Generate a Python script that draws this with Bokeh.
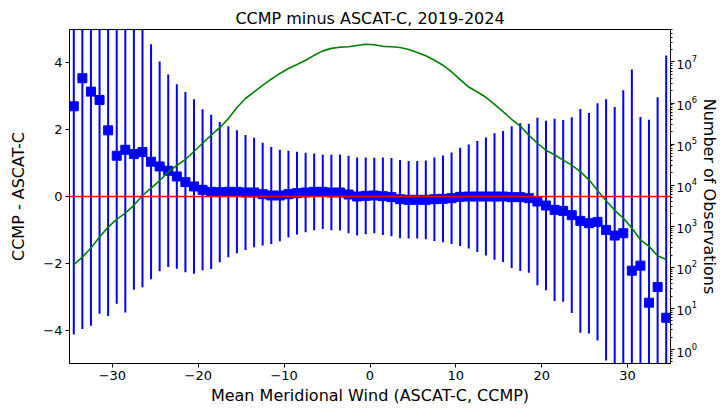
import numpy as np
from bokeh.plotting import figure
from bokeh.models import (Range1d, LinearAxis, LogAxis, LogScale, FixedTicker, LogTicker,
                          CustomJSTickFormatter, Span, ColumnDataSource)
from bokeh.embed import file_html
from bokeh.resources import INLINE

# ---- data ----
bin_centers = np.arange(-34.5, 35.0, 1.0)

mean_diff = [2.70, 3.54, 3.14, 2.89, 1.98, 1.22, 1.40, 1.27, 1.33, 1.04,
             0.90, 0.77, 0.60, 0.43, 0.30, 0.20, 0.14, 0.13, 0.14, 0.14,
             0.12, 0.12, 0.07, 0.03, 0.03, 0.07, 0.10, 0.12, 0.14, 0.14,
             0.12, 0.12, 0.06, 0.00, 0.02, 0.03, 0.01, -0.02, -0.08, -0.10,
             -0.10, -0.10, -0.08, -0.07, -0.05, -0.01, 0.00, 0.00, 0.00, 0.00,
             0.00, -0.02, -0.02, -0.05, -0.15, -0.27, -0.40, -0.43, -0.56, -0.73,
             -0.80, -0.76, -1.00, -1.17, -1.10, -2.22, -2.07, -3.18, -2.71, -3.63]

std_diff = [6.83, 7.51, 7.01, 6.40, 5.56, 4.43, 4.87, 4.06, 4.05, 3.52,
            3.14, 2.88, 2.76, 2.70, 2.61, 2.41, 2.31, 2.10, 1.96, 1.84,
            1.72, 1.64, 1.54, 1.45, 1.37, 1.30, 1.24, 1.19, 1.15, 1.11,
            1.13, 1.14, 1.16, 1.17, 1.15, 1.13, 1.16, 1.17, 1.17, 1.16,
            1.16, 1.18, 1.25, 1.30, 1.37, 1.47, 1.56, 1.66, 1.77, 1.89,
            1.96, 2.12, 2.21, 2.23, 2.51, 2.54, 2.73, 2.72, 2.93, 3.35,
            3.30, 3.55, 3.91, 3.85, 4.28, 6.02, 4.45, 5.48, 5.68, 7.85]

n_obs = [117, 178, 295, 550, 955, 1480, 2090, 3240, 5620, 8510,
         12900, 20900, 30200, 42700, 66100, 105000, 166000, 251000, 417000, 776000,
         1290000, 1860000, 2690000, 3800000, 5250000, 6920000, 8710000, 11000000, 14500000, 18600000,
         21400000, 22900000, 23400000, 25100000, 26900000, 26300000, 24000000, 23400000, 22400000, 20000000,
         17000000, 14100000, 11000000, 8320000, 5750000, 3720000, 2450000, 1860000, 1380000, 933000,
         617000, 398000, 275000, 166000, 105000, 70800, 55000, 40700, 30900, 21400,
         13500, 7410, 4170, 2450, 1580, 912, 468, 324, 191, 155]

x_ticks = [-30, -20, -10, 0, 10, 20, 30]
y_ticks = [-4, -2, 0, 2, 4]

FONT = "DejaVu Sans"

mean_arr = np.array(mean_diff)
std_arr = np.array(std_diff)
src = ColumnDataSource(dict(x=bin_centers, m=mean_arr, lo=mean_arr - std_arr,
                            hi=mean_arr + std_arr, n=n_obs))

p = figure(frame_width=601, frame_height=334, output_backend="svg", toolbar_location=None,
           x_range=Range1d(-35, 35), y_range=Range1d(-5, 5),
           min_border_left=69, min_border_right=0, min_border_top=29, min_border_bottom=0,
           x_axis_location=None, y_axis_location=None)
p.extra_y_ranges = {"log": Range1d(10 ** -0.34, 10 ** 7.79)}
p.extra_y_scales = {"log": LogScale()}

p.title.text = "CCMP minus ASCAT-C, 2019-2024"
p.title.align = "center"
p.title.text_font = FONT
p.title.text_font_size = "16px"
p.title.text_font_style = "normal"
p.title.text_color = "black"
p.title.standoff = 4

p.xgrid.visible = False
p.ygrid.visible = False
p.outline_line_color = "black"
p.outline_line_width = 1
p.outline_line_alpha = 1

minus_fmt = CustomJSTickFormatter(code="return tick < 0 ? '\\u2212' + Math.abs(tick) : String(tick);")

def style_axis(ax, label_size="13px"):
    ax.axis_label_text_font = FONT
    ax.axis_label_text_font_size = "16px"
    ax.axis_label_text_font_style = "normal"
    ax.axis_label_text_color = "black"
    ax.major_label_text_font = FONT
    ax.major_label_text_font_size = label_size
    ax.major_label_text_color = "black"
    ax.axis_line_color = "black"
    ax.major_tick_line_color = "black"
    ax.minor_tick_line_color = "black"
    ax.major_tick_in = 0
    ax.major_tick_out = 4
    ax.minor_tick_in = 0
    ax.minor_tick_out = 2
    ax.major_label_standoff = 3
    ax.axis_label_standoff = 3

xax = LinearAxis(axis_label="Mean Meridional Wind (ASCAT-C, CCMP)",
                 ticker=FixedTicker(ticks=x_ticks), formatter=minus_fmt)
style_axis(xax)
p.add_layout(xax, "below")

yax = LinearAxis(axis_label="CCMP - ASCAT-C", ticker=FixedTicker(ticks=y_ticks), formatter=minus_fmt)
style_axis(yax)
yax.axis_label_standoff = 12
p.add_layout(yax, "left")

rax = LogAxis(y_range_name="log", axis_label="Number of Observations",
              ticker=LogTicker(num_minor_ticks=10, desired_num_ticks=8))
style_axis(rax, "12px")
rax.major_label_standoff = 2
rax.axis_label_standoff = 0
p.add_layout(rax, "right")

# error bars
p.segment(x0="x", y0="lo", x1="x", y1="hi", source=src, line_color="#0000ff", line_width=2)
# zero line
p.add_layout(Span(location=0, dimension="width", line_color="#ff0000", line_width=1.6))
# mean markers
p.scatter(x="x", y="m", source=src, marker="square", size=9, fill_color="#0000ff",
          line_color="#0000ff")
# observation counts
p.line(x="x", y="n", source=src, y_range_name="log", line_color="#008000", line_width=1.6)

open("out.html", "w").write(file_html(p, INLINE))
